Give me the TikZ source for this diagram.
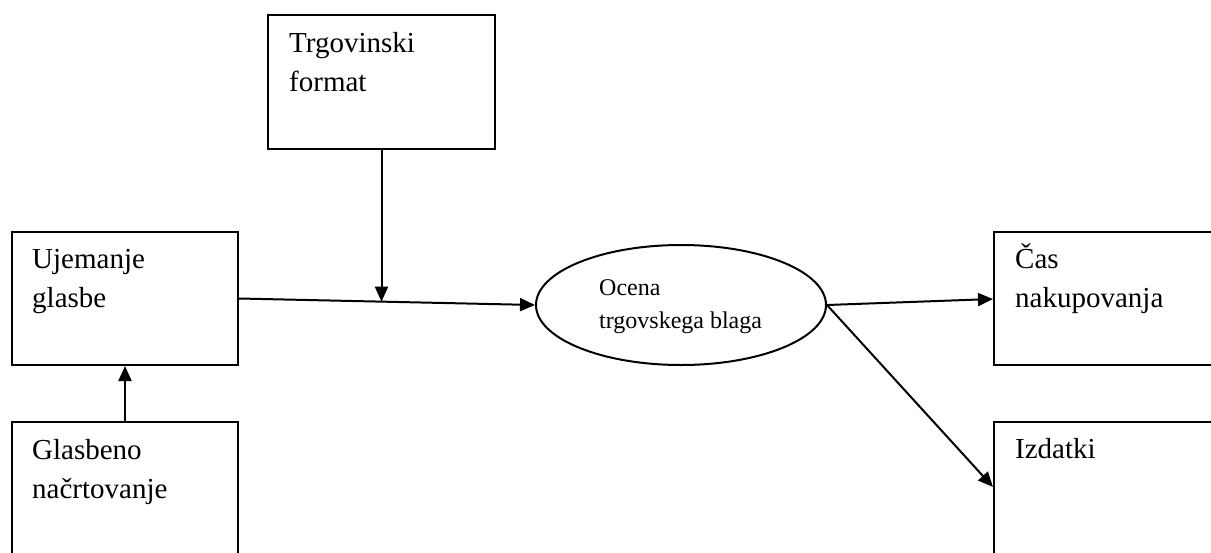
\documentclass[tikz,border=0pt]{standalone}
\usepackage{fontspec}
\setmainfont{Liberation Serif}
\usetikzlibrary{arrows.meta,shapes.geometric,calc}
\tikzset{
  box/.style={draw, line width=2pt, rectangle, anchor=north west, minimum width=227pt, minimum height=134pt, inner sep=0pt},
  oval/.style={draw, line width=2pt, ellipse, minimum width=290pt, minimum height=120pt, inner sep=0pt},
  boxtext/.style={anchor=base west, inner sep=0pt, font=\fontsize{29pt}{39pt}\selectfont},
  ovaltext/.style={anchor=base west, inner sep=0pt, font=\fontsize{24pt}{33pt}\selectfont},
  arr/.style={line width=2pt, -{Triangle[length=15pt,width=13pt]}}
}
\begin{document}
\begin{tikzpicture}[x=1pt,y=-1pt]
\useasboundingbox (0,0) rectangle (1211,552);
\clip (0,0) rectangle (1211,552);
\fill[white] (0,0) rectangle (1211,552);
% boxes
\node[box] (t) at (267,14) {};
\node[box, minimum width=226pt, minimum height=133pt] (u) at (11,231) {};
\node[box, minimum width=226pt] (g) at (11,421) {};
\node[box, minimum height=133pt] (c) at (993,231) {};
\node[box] (i) at (993,421) {};
\node[oval] (e) at (681,305) {};
% texts
\node[boxtext] (tt) at (289,52) {\parbox[t]{200pt}{Trgovinski\\format}};
\node[boxtext] (ut) at (32,268) {\parbox[t]{200pt}{Ujemanje\\glasbe}};
\node[boxtext] (gt) at (32,459) {\parbox[t]{200pt}{Glasbeno\\načrtovanje}};
\node[boxtext] (ct) at (1015,268) {\parbox[t]{200pt}{Čas\\nakupovanja}};
\node[boxtext] (it) at (1015,458) {\parbox[t]{200pt}{Izdatki}};
\node[ovaltext] (et) at (599,295) {\parbox[t]{220pt}{Ocena\\trgovskega blaga}};
% connectors
\coordinate (m) at ($(u.east)!0.485!(e.west)$);
\coordinate (ie) at ($(i.north west)+(0,66)$);
\coordinate (ce) at ($(c.north west)+(0,68)$);
\draw[arr] (g.north) -- (u.south);
\draw[arr] (u.east) -- (e.west);
\draw[arr] (t.south) -- (t.south |- m);
\draw[arr] (e.east) -- (ce);
\draw[arr] (e.east) -- (ie);
\end{tikzpicture}
\end{document}
